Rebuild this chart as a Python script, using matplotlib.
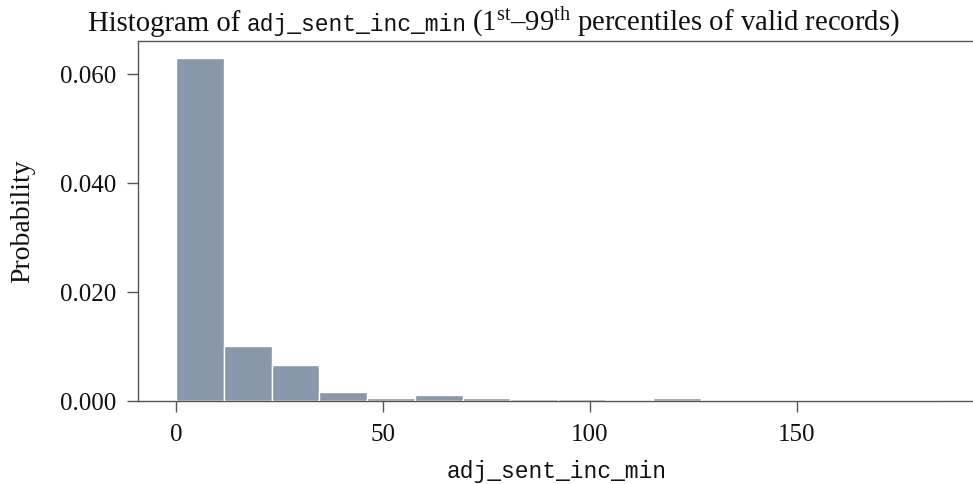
import numpy as np
import matplotlib
matplotlib.use("Agg")
import matplotlib.pyplot as plt

# ---- data ----
bin_edges = [0.0, 11.53, 23.06, 34.59, 46.13, 57.66, 69.19, 80.72, 92.25,
             103.78, 115.31, 126.84, 138.38, 149.91, 161.44, 172.97, 184.5]
probabilities = [0.0629, 0.0100, 0.0066, 0.0017, 0.0006, 0.00108, 0.0006,
                 0.0003, 0.0003, 0.0, 0.0005, 0.0, 0.0, 0.0, 0.0, 0.00002]
x_ticks = [0, 50, 100, 150]
y_ticks = [0.0, 0.02, 0.04, 0.06]
var_name = "adj_sent_inc_min"

SERIF = ["Liberation Serif", "DejaVu Serif"]
MONO = ["Liberation Mono", "DejaVu Sans Mono"]
plt.rcParams["font.family"] = SERIF
plt.rcParams["mathtext.fontset"] = "custom"
plt.rcParams["mathtext.rm"] = "Liberation Serif"
plt.rcParams["mathtext.it"] = "Liberation Serif:italic"

W, H = 973, 485
fig = plt.figure(figsize=(W / 100, H / 100), dpi=100)
ax = fig.add_axes([138 / W, (H - 402) / H, 840 / W, 360 / H])

edges = np.array(bin_edges)
widths = np.diff(edges)
ax.bar(edges[:-1], probabilities, width=widths, align="edge",
       color="#8898aa", edgecolor="white", linewidth=1.0, zorder=3)

span = edges[-1] - edges[0]
ax.set_xlim(edges[0] - 0.05 * span, edges[-1] + 0.05 * span)
ax.set_ylim(0, max(probabilities) * 1.05)

ax.set_xticks(x_ticks)
ax.set_xticklabels([str(t) for t in x_ticks])
ax.set_yticks(y_ticks)
ax.set_yticklabels([f"{t:.3f}" for t in y_ticks])

spine_col = "#555555"
for s in ["left", "bottom", "top"]:
    ax.spines[s].set_color(spine_col)
    ax.spines[s].set_linewidth(1.0)
ax.spines["right"].set_visible(False)
ax.tick_params(axis="both", direction="out", length=8, width=1.0,
               color=spine_col, pad=7.5, labelsize=18, labelcolor="#111111")

# y label
fig.text(23 / W, (H - 221) / H, "Probability", rotation=90, ha="center",
         va="center", fontsize=20, family=SERIF, color="#111111")
# x label
fig.text(557 / W, 7 / H, var_name, ha="center", va="baseline",
         fontsize=16.6, family=MONO, color="#111111")

# title built from pieces
fig.canvas.draw()
renderer = fig.canvas.get_renderer()
pieces = [
    ("Histogram of", SERIF, 20.7),
    (var_name, MONO, 16.6),
    (r"(1$^{\mathrm{st}}$–99$^{\mathrm{th}}$ percentiles of valid records)", SERIF, 20.7),
]
x = 88
base_y = (H - 31) / H
space_px = 6
for txt, fam, fs in pieces:
    t = fig.text(x / W, base_y, txt, ha="left", va="baseline", fontsize=fs,
                 family=fam, color="#111111")
    bb = t.get_window_extent(renderer=renderer)
    x = bb.x1 + space_px

fig.savefig("out.png", dpi=100, facecolor="white")
